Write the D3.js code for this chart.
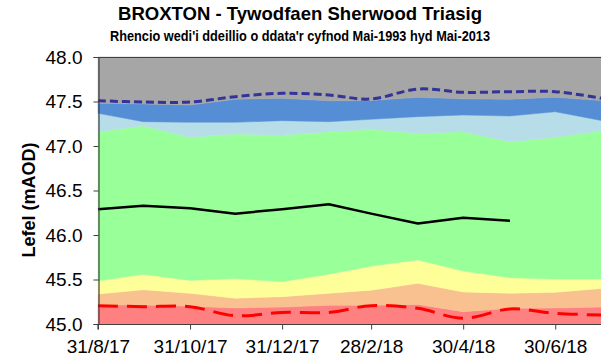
<!DOCTYPE html>
<html>
<head>
<meta charset="utf-8">
<script src="https://cdn.jsdelivr.net/npm/d3@7"></script>
<style>
  html, body { margin: 0; padding: 0; background: #fff; }
  svg { display: block; font-family: "Liberation Sans", Arial, sans-serif; }
</style>
</head>
<body>
<svg id="chart" width="601" height="358"></svg>
<script>
// Monthly dates for the rank envelopes
const dates = ["2017-08-31","2017-09-30","2017-10-31","2017-11-30","2017-12-31","2018-01-31",
               "2018-02-28","2018-03-31","2018-04-30","2018-05-31","2018-06-30","2018-07-31"];

// Upper edge of each rank band (mAOD), bottom band first
const bandRed    = [45.213, 45.213, 45.200, 45.180, 45.190, 45.210, 45.210, 45.220, 45.138, 45.176, 45.180, 45.190];
const bandOrange = [45.337, 45.385, 45.345, 45.290, 45.307, 45.345, 45.380, 45.457, 45.360, 45.345, 45.356, 45.400];
const bandYellow = [45.483, 45.560, 45.490, 45.510, 45.475, 45.560, 45.650, 45.720, 45.595, 45.520, 45.505, 45.505];
const bandGreen  = [47.161, 47.228, 47.097, 47.135, 47.124, 47.161, 47.187, 47.142, 47.161, 47.048, 47.097, 47.172];
const bandLtBlue = [47.367, 47.273, 47.266, 47.266, 47.285, 47.273, 47.300, 47.330, 47.348, 47.337, 47.385, 47.285];
const bandBlue   = [47.480, 47.472, 47.460, 47.525, 47.536, 47.509, 47.510, 47.547, 47.530, 47.525, 47.547, 47.510];

// Historic maximum and minimum
const histMax = [47.509, 47.494, 47.494, 47.554, 47.592, 47.573, 47.528, 47.640, 47.603, 47.610, 47.610, 47.536];
const histMin = [45.206, 45.195, 45.195, 45.093, 45.130, 45.130, 45.206, 45.176, 45.064, 45.169, 45.120, 45.100];

// Observed levels
const obsDates  = dates.slice(0, 10);
const obsLevels = [46.29, 46.33, 46.30, 46.24, 46.29, 46.345, 46.24, 46.13, 46.195, 46.16];

const yTicks = [45.0, 45.5, 46.0, 46.5, 47.0, 47.5, 48.0];
const xTicks = ["2017-08-31","2017-10-31","2017-12-31","2018-02-28","2018-04-30","2018-06-30"];

const parse = d3.utcParse("%Y-%m-%d");
const fmtX = d => `${d.getUTCDate()}/${d.getUTCMonth() + 1}/${String(d.getUTCFullYear()).slice(2)}`;

const svg = d3.select("#chart");
const x = d3.scaleUtc().domain([parse("2017-08-31"), parse("2018-07-31")]).range([98, 602]);
const y = d3.scaleLinear().domain([45, 48]).range([324, 57]);

const bands = [
  { lo: dates.map(() => 45), hi: bandRed,    color: "#FF8080" },
  { lo: bandRed,    hi: bandOrange, color: "#F9C090" },
  { lo: bandOrange, hi: bandYellow, color: "#FFFF99" },
  { lo: bandYellow, hi: bandGreen,  color: "#99FF99" },
  { lo: bandGreen,  hi: bandLtBlue, color: "#B7DEE8" },
  { lo: bandLtBlue, hi: bandBlue,   color: "#558ED5" },
  { lo: bandBlue,   hi: dates.map(() => 48), color: "#A6A6A6" }
];

const area = d3.area()
  .x(d => x(d.date))
  .y0(d => y(d.lo))
  .y1(d => y(d.hi));

const plot = svg.append("g");
bands.forEach(b => {
  const rows = dates.map((d, i) => ({ date: parse(d), lo: b.lo[i], hi: b.hi[i] }));
  plot.append("path").attr("d", area(rows)).attr("fill", b.color).attr("stroke", b.color).attr("stroke-width", 0.5);
});

const smooth = d3.line().x(d => x(d.date)).y(d => y(d.v)).curve(d3.curveCatmullRom.alpha(0));
const straight = d3.line().x(d => x(d.date)).y(d => y(d.v));

plot.append("path")
  .attr("d", smooth(dates.map((d, i) => ({ date: parse(d), v: histMax[i] }))))
  .attr("fill", "none").attr("stroke", "#333399").attr("stroke-width", 3)
  .attr("stroke-dasharray", "8,4");

plot.append("path")
  .attr("d", smooth(dates.map((d, i) => ({ date: parse(d), v: histMin[i] }))))
  .attr("fill", "none").attr("stroke", "#FF0000").attr("stroke-width", 3)
  .attr("stroke-dasharray", "20,9");

plot.append("path")
  .attr("d", straight(obsDates.map((d, i) => ({ date: parse(d), v: obsLevels[i] }))))
  .attr("fill", "none").attr("stroke", "#000").attr("stroke-width", 2.5)
  .attr("stroke-linejoin", "round");

// Plot frame top edge
svg.append("line").attr("x1", 98).attr("x2", 601).attr("y1", 57.5).attr("y2", 57.5)
  .attr("stroke", "#404040").attr("stroke-width", 1.2);

// Axes
const yAxis = svg.append("g").attr("transform", "translate(98.5,0)")
  .call(d3.axisLeft(y).tickValues(yTicks).tickFormat(d3.format(".1f")).tickSize(5).tickPadding(11));
const xAxis = svg.append("g").attr("transform", "translate(0,324.5)")
  .call(d3.axisBottom(x).tickValues(xTicks.map(parse)).tickFormat(fmtX).tickSize(5).tickPadding(10));

[yAxis, xAxis].forEach(g => {
  g.select(".domain").attr("stroke", "#404040").attr("stroke-width", 1.2);
  g.selectAll(".tick line").attr("stroke", "#404040");
  g.selectAll("text").attr("fill", "#000").style("font-size", "19px")
    .style("font-family", "'Liberation Sans', Arial, sans-serif");
});
xAxis.select(".domain").attr("d", "M98,5V0H601");

// Titles
svg.append("text").attr("x", 300).attr("y", 20).attr("text-anchor", "middle")
  .attr("textLength", 364).attr("lengthAdjust", "spacingAndGlyphs")
  .style("font-weight", "bold").style("font-size", "18.5px")
  .text("BROXTON - Tywodfaen Sherwood Triasig");

svg.append("text").attr("x", 300).attr("y", 40.5).attr("text-anchor", "middle")
  .attr("textLength", 380).attr("lengthAdjust", "spacingAndGlyphs")
  .style("font-weight", "bold").style("font-size", "14px")
  .text("Rhencio wedi'i ddeillio o ddata'r cyfnod Mai-1993 hyd Mai-2013");

svg.append("text").attr("transform", "translate(35,200) rotate(-90)").attr("text-anchor", "middle")
  .style("font-weight", "bold").style("font-size", "18px")
  .text("Lefel (mAOD)");
</script>
</body>
</html>
